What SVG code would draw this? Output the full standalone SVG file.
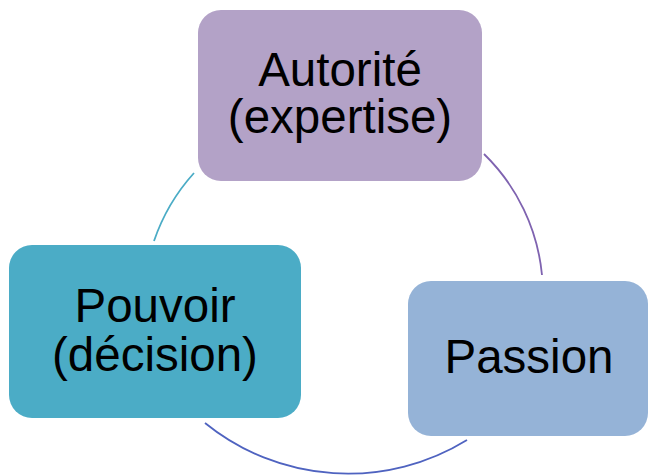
<svg xmlns="http://www.w3.org/2000/svg" width="648" height="476" viewBox="0 0 648 476">
<style>
.lbl{font-family:"Liberation Sans",Arial,sans-serif;font-size:47.5px;fill:#000;text-anchor:middle}
.arc{fill:none;stroke-width:1.8}
</style>
<rect width="648" height="476" fill="#fff"/>
<g id="connectors">
<path class="arc" d="M484,154 A195,195 0 0 1 542,275" stroke="#7F63B0"/>
<path class="arc" d="M467,440 A227,227 0 0 1 205,423" stroke="#4F63C0"/>
<path class="arc" d="M154,241 A195,195 0 0 1 194,173" stroke="#4BACC6"/>
</g>
<g id="node-autorite">
<rect x="198" y="10" width="284" height="171" rx="23" fill="#B3A2C7"/>
<text class="lbl"><tspan x="340" y="86">Autorité</tspan><tspan x="340" y="133">(expertise)</tspan></text>
</g>
<g id="node-passion">
<rect x="408" y="281" width="240" height="155" rx="23" fill="#95B3D7"/>
<text class="lbl" x="529" y="373">Passion</text>
</g>
<g id="node-pouvoir">
<rect x="9" y="245" width="292" height="173" rx="23" fill="#4BACC6"/>
<text class="lbl"><tspan x="155" y="322">Pouvoir</tspan><tspan x="155" y="371">(décision)</tspan></text>
</g>
</svg>
